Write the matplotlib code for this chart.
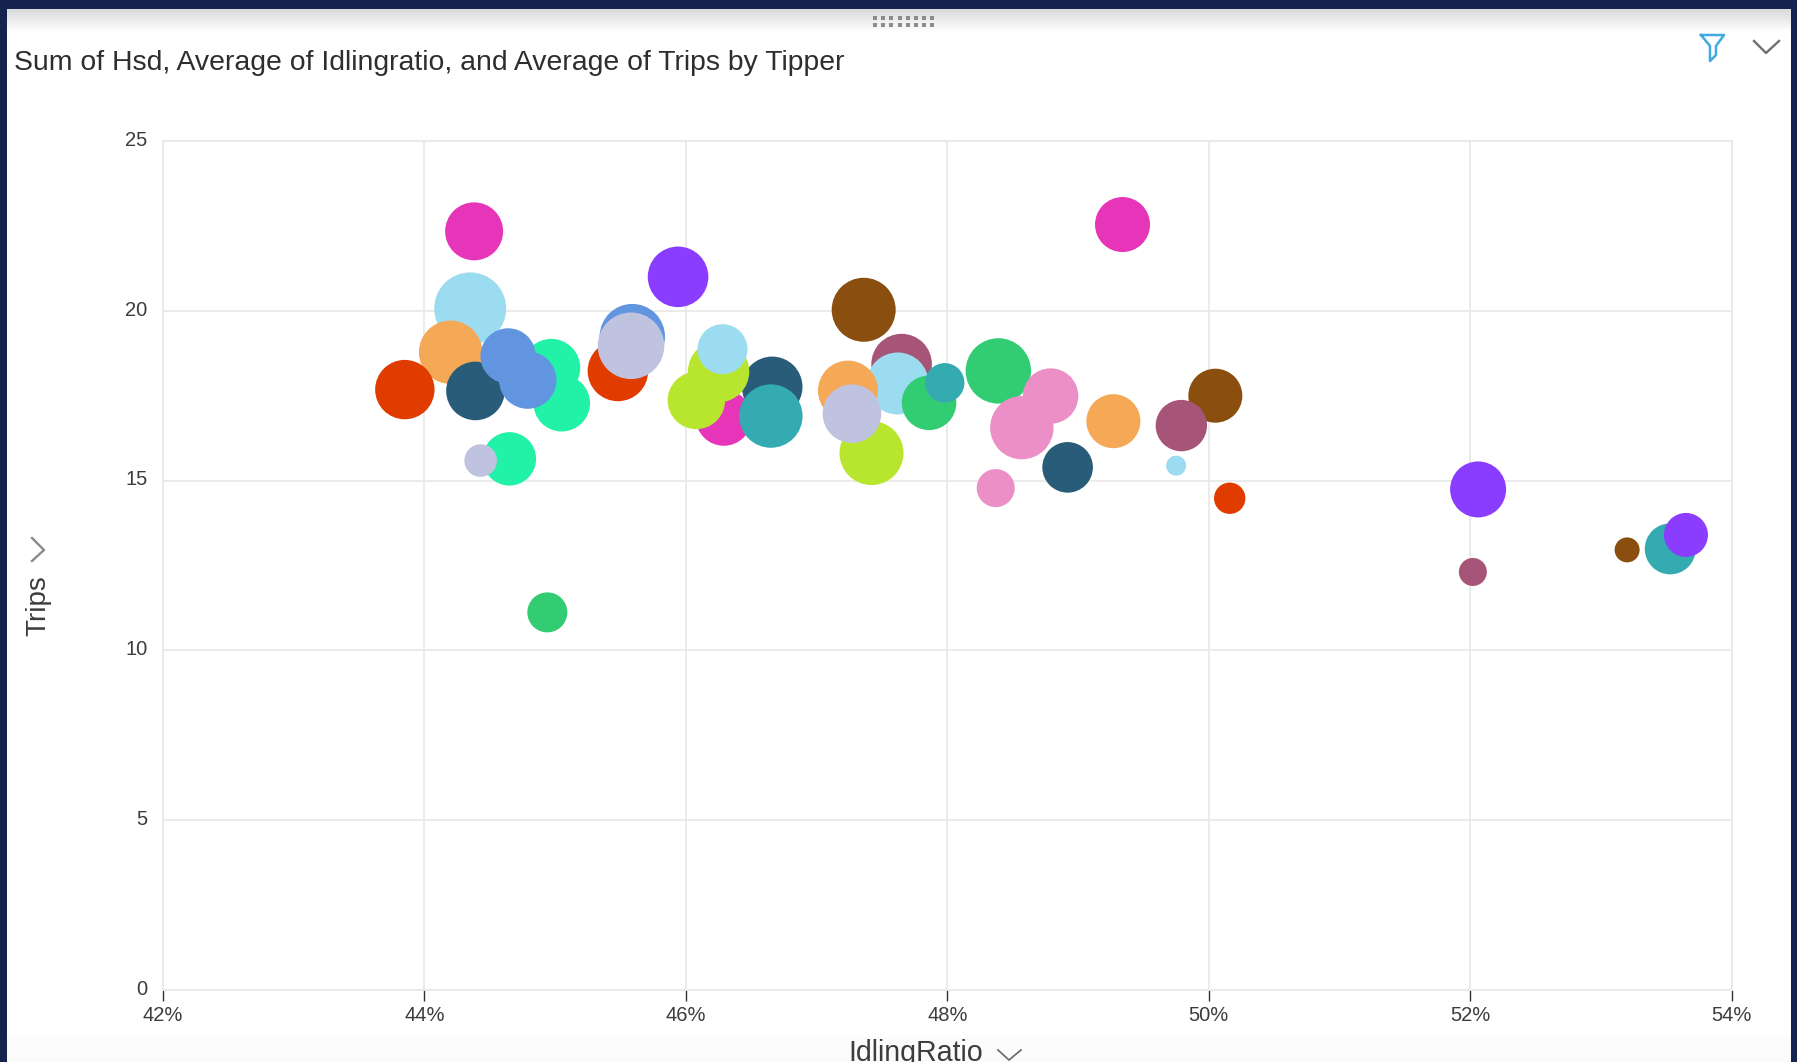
import numpy as np
import matplotlib
matplotlib.use("Agg")
import matplotlib.pyplot as plt
from matplotlib.colors import LinearSegmentedColormap
from matplotlib.transforms import ScaledTranslation

plt.rcParams["font.family"] = ["Liberation Sans", "DejaVu Sans"]

# One row per tipper, listed in drawing order (later bubbles sit on top)
idling_ratio = [
    44.38, 44.35, 44.20, 43.85, 44.39, 44.97, 45.05, 44.79, 44.64, 44.65, 44.43,
    45.94, 45.48, 45.59, 45.58, 46.29, 46.66, 46.25, 46.08, 46.28, 46.65,
    47.36, 47.65, 47.62, 47.24, 47.42, 47.86, 47.27, 47.98,
    48.39, 48.79, 48.57, 49.27, 48.92, 48.37, 50.05, 49.79, 49.75, 50.16,
    49.34, 44.94, 52.06, 52.02, 53.20, 53.53, 53.65,
]
trips = [
    22.34, 20.07, 18.78, 17.68, 17.64, 18.32, 17.28, 17.96, 18.67, 15.64, 15.59,
    21.00, 18.23, 19.24, 18.97, 16.85, 17.76, 18.21, 17.36, 18.87, 16.90,
    20.03, 18.43, 17.86, 17.65, 15.81, 17.29, 16.97, 17.88,
    18.23, 17.49, 16.56, 16.75, 15.39, 14.78, 17.50, 16.62, 15.44, 14.48,
    22.54, 11.12, 14.74, 12.31, 12.96, 12.99, 13.40,
]
hsd = [
    841, 1296, 1005, 882, 858, 841, 801, 824, 767, 713, 266,
    918, 918, 1069, 1109, 784, 918, 942, 824, 625, 1005,
    1024, 918, 961, 900, 1024, 745, 858, 388,
    1069, 767, 1005, 729, 640, 361, 729, 660, 100, 246,
    756, 400, 784, 196, 156, 650, 484,
]
tipper_colours = [
    "#e635b8", "#9cdcf0", "#f5a855", "#e03c00", "#295c78", "#22f2a8", "#22f2a8",
    "#6295e0", "#6295e0", "#22f2a8", "#c0c3e0",
    "#8a3cff", "#e03c00", "#6295e0", "#c0c3e0", "#e635b8", "#295c78", "#b8e62e",
    "#b8e62e", "#9cdcf0", "#33abb0",
    "#8a4f0f", "#a65478", "#9cdcf0", "#f5a855", "#b8e62e", "#32cc72", "#c0c3e0", "#33abb0",
    "#32cc72", "#ec8fc6", "#ec8fc6", "#f5a855", "#295c78", "#ec8fc6", "#8a4f0f",
    "#a65478", "#9cdcf0", "#e03c00",
    "#e635b8", "#32cc72", "#8a3cff", "#a65478", "#8a4f0f", "#33abb0", "#8a3cff",
]

x_ticks = [42, 44, 46, 48, 50, 52, 54]
x_tick_labels = ["42%", "44%", "46%", "48%", "50%", "52%", "54%"]
y_ticks = [0, 5, 10, 15, 20, 25]

W, H = 1797, 1062
GRID = "#e8e8e8"
TEXT = "#3c3c3c"
FRAME = "#15234f"

fig = plt.figure(figsize=(W / 100, H / 100), dpi=100, facecolor=FRAME)

# Card and chrome are drawn in pixel coordinates on a full-figure axes
bg = fig.add_axes([0, 0, 1, 1], zorder=0)
bg.axis("off")
bg.fill_between([7, 1791], 9, H, color="white", lw=0)
bg.fill_between([7, 1791], 1037, H, color="#fbfbfb", lw=0)
shade = np.linspace(0, 1, 64).reshape(-1, 1)
bg.imshow(shade, extent=[7, 1791, 32, 9], aspect="auto", zorder=1,
          cmap=LinearSegmentedColormap.from_list("header", ["#d9d9d9", "#ffffff"]))
bg.set_xlim(0, W)
bg.set_ylim(H, 0)

# drag handle
for px in np.arange(875, 936, 8.2):
    for py in (18, 25):
        bg.plot([px], [py], marker="s", ms=2.4, color="#8c8c8c", mew=0, zorder=2)

# filter icon and chevrons
bg.plot([1701, 1724, 1716, 1716, 1710, 1710, 1701], [35, 35, 46, 55, 61, 46, 35],
        color="#3fa9e0", lw=1.8, zorder=2)
bg.plot([1754, 1766, 1779], [41, 53, 41], color="#707070", lw=1.7, zorder=2)
bg.plot([32, 44, 32], [538, 550, 561], color="#8a8a8a", lw=1.7, zorder=2)
bg.plot([998, 1009, 1021], [1050, 1060, 1050], color="#707070", lw=1.3, zorder=2)

bg.text(14, 63, "Sum of Hsd, Average of Idlingratio, and Average of Trips by Tipper",
        fontsize=20.45, color="#2e2e2e", va="center", ha="left")
bg.text(38, 606, "Trips", fontsize=20, color=TEXT, rotation=90, va="center", ha="center")
bg.text(916, 1053, "IdlingRatio", fontsize=20.6, color=TEXT, va="center", ha="center")

# Bubble chart
left, right, top, bottom = 163, 1731.7, 141, 990
ax = fig.add_axes([left / W, 1 - bottom / H, (right - left) / W, (bottom - top) / H], zorder=1)
ax.patch.set_alpha(0)
ax.set_xlim(42, 54)
ax.set_ylim(0, 25)
ax.set_xticks(x_ticks)
ax.set_xticklabels(x_tick_labels)
ax.set_yticks(y_ticks)
ax.grid(True, color=GRID, lw=1.2)
ax.set_axisbelow(True)
for spine in ax.spines.values():
    spine.set_color(GRID)
    spine.set_linewidth(1.2)
ax.tick_params(axis="x", length=8, width=1, color="#333333", labelsize=14.5, labelcolor=TEXT, pad=3.5)
ax.tick_params(axis="y", length=0, labelsize=14.5, labelcolor=TEXT, pad=11)

# y labels sit slightly above their gridlines
nudge = ScaledTranslation(0, 2 / 72, fig.dpi_scale_trans)
for label in ax.get_yticklabels():
    label.set_transform(label.get_transform() + nudge)

# marker area in points^2 scales with Hsd
ax.scatter(idling_ratio, trips, s=[h * 2.0736 for h in hsd], c=tipper_colours,
           linewidths=0, zorder=3, clip_on=False)

fig.savefig("out.png", dpi=100, facecolor=fig.get_facecolor())
